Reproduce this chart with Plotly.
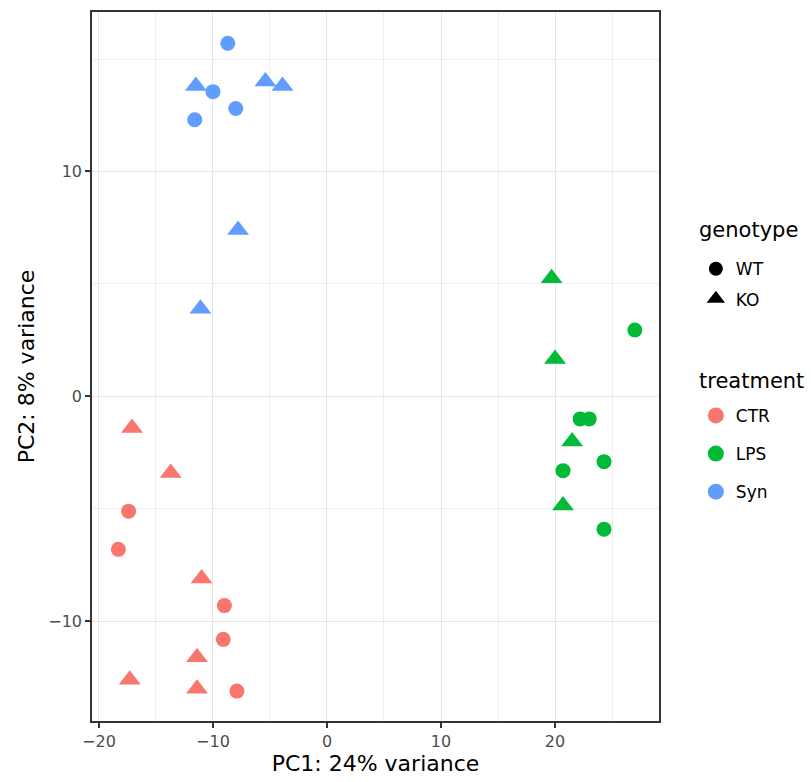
import plotly.graph_objects as go

# PCA scores per sample
pc1 = [
    -8.7, -11.5, -10.0, -5.4, -3.9, -8.0, -11.6, -7.8, -11.1,
    -17.1, -13.7, -17.4, -18.3, -11.0, -9.0, -9.1, -11.4, -17.3, -11.4, -7.9,
    19.7, 27.0, 20.0, 22.2, 23.0, 21.5, 24.3, 20.7, 20.7, 24.3,
]
pc2 = [
    15.7, 13.8, 13.55, 14.0, 13.8, 12.8, 12.3, 7.4, 3.9,
    -1.4, -3.4, -5.1, -6.8, -8.1, -9.3, -10.8, -11.6, -12.6, -13.0, -13.1,
    5.25, 2.95, 1.66, -1.0, -1.0, -2.0, -2.9, -3.3, -4.85, -5.9,
]
treatment = ["Syn"] * 9 + ["CTR"] * 11 + ["LPS"] * 10
genotype = [
    "WT", "KO", "WT", "KO", "KO", "WT", "WT", "KO", "KO",
    "KO", "KO", "WT", "WT", "KO", "WT", "WT", "KO", "KO", "KO", "WT",
    "KO", "WT", "KO", "WT", "WT", "KO", "WT", "WT", "KO", "WT",
]

treatment_levels = ["CTR", "LPS", "Syn"]
treatment_colors = {"CTR": "#F8766D", "LPS": "#00BA38", "Syn": "#619CFF"}
genotype_levels = ["WT", "KO"]
genotype_symbols = {"WT": "circle", "KO": "triangle-up"}
genotype_sizes = {"WT": 15, "KO": 19}

x_ticks = [-20, -10, 0, 10, 20]
y_ticks = [-10, 0, 10]


def tick_text(v):
    return ("\u2212" + str(-v)) if v < 0 else str(v)


FONT = "DejaVu Sans, Verdana, sans-serif"

fig = go.Figure()

# data points, one trace per treatment/genotype combination
for t in treatment_levels:
    for g in genotype_levels:
        xs = [x for x, tt, gg in zip(pc1, treatment, genotype) if tt == t and gg == g]
        ys = [y for y, tt, gg in zip(pc2, treatment, genotype) if tt == t and gg == g]
        fig.add_trace(go.Scatter(
            x=xs, y=ys, mode="markers",
            marker=dict(color=treatment_colors[t], symbol=genotype_symbols[g],
                        size=genotype_sizes[g], line=dict(width=0)),
            showlegend=False, hoverinfo="x+y",
        ))

# legend keys: shape (genotype)
for g in genotype_levels:
    fig.add_trace(go.Scatter(
        x=[None], y=[None], mode="markers", name=g,
        marker=dict(color="black", symbol=genotype_symbols[g],
                    size=14 if g == "WT" else 16, line=dict(width=0)),
        legend="legend", legendgroup="g_" + g,
    ))

# legend keys: colour (treatment)
for t in treatment_levels:
    fig.add_trace(go.Scatter(
        x=[None], y=[None], mode="markers", name=t,
        marker=dict(color=treatment_colors[t], symbol="circle", size=16, line=dict(width=0)),
        legend="legend2", legendgroup="t_" + t,
    ))

axis_common = dict(
    showline=True, mirror=True, linecolor="#333333", linewidth=1.6,
    ticks="outside", ticklen=5, tickwidth=1.6, tickcolor="#333333",
    tickfont=dict(family=FONT, size=16, color="#4D4D4D"),
    showgrid=True, gridcolor="#E6E6E6", gridwidth=1.4,
    zeroline=False,
)

fig.update_layout(
    width=811, height=782,
    margin=dict(l=92, r=152, t=10, b=61),
    paper_bgcolor="white", plot_bgcolor="white",
    font=dict(family=FONT, color="black"),
    xaxis=dict(
        range=[-20.61, 29.12], tickvals=x_ticks,
        ticktext=[tick_text(v) for v in x_ticks],
        title=dict(text="PC1: 24% variance", font=dict(family=FONT, size=22), standoff=6),
        minor=dict(showgrid=True, dtick=5, tick0=0, gridcolor="#EFEFEF", gridwidth=1),
        **axis_common,
    ),
    yaxis=dict(
        range=[-14.43, 17.09], tickvals=y_ticks,
        ticktext=[tick_text(v) for v in y_ticks],
        title=dict(text="PC2: 8% variance", font=dict(family=FONT, size=22), standoff=8),
        minor=dict(showgrid=True, dtick=5, tick0=0, gridcolor="#EFEFEF", gridwidth=1),
        **axis_common,
    ),
    legend=dict(
        font=dict(family=FONT, size=17),
        x=1.065, xanchor="left", y=0.6626, yanchor="top",
        tracegroupgap=5, itemsizing="trace",
    ),
    legend2=dict(
        font=dict(family=FONT, size=17),
        x=1.065, xanchor="left", y=0.4557, yanchor="top",
        tracegroupgap=13, itemsizing="trace",
    ),
    annotations=[
        dict(text="genotype", xref="paper", yref="paper", x=1.067, y=0.692,
             xanchor="left", yanchor="middle", showarrow=False,
             font=dict(family=FONT, size=21, color="black")),
        dict(text="treatment", xref="paper", yref="paper", x=1.067, y=0.4796,
             xanchor="left", yanchor="middle", showarrow=False,
             font=dict(family=FONT, size=21, color="black")),
    ],
)

fig.write_html("out.html")
